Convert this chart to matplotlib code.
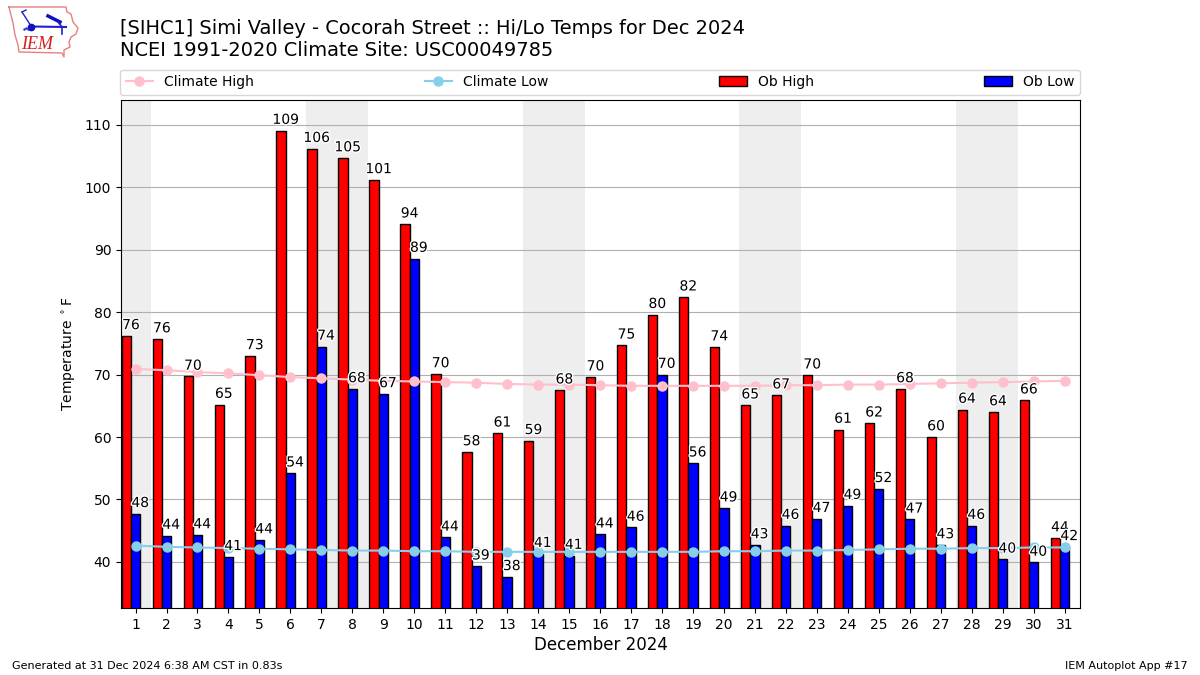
import numpy as np
import matplotlib.pyplot as plt
import matplotlib.patheffects as pe

days = list(range(1, 32))
ob_high = [76.2, 75.7, 69.7, 65.2, 73.0, 109.1, 106.2, 104.7, 101.2, 94.1, 70.1, 57.6, 60.6, 59.4, 67.5, 69.6,
           74.7, 79.6, 82.4, 74.4, 65.1, 66.7, 69.9, 61.2, 62.2, 67.7, 60.0, 64.4, 64.0, 65.9, 43.8]
ob_low = [47.7, 44.2, 44.3, 40.8, 43.5, 54.2, 74.5, 67.7, 66.9, 88.6, 43.9, 39.3, 37.6, 41.3, 41.0, 44.4,
          45.5, 70.0, 55.8, 48.6, 42.7, 45.8, 46.9, 49.0, 51.7, 46.8, 42.7, 45.8, 40.4, 39.9, 42.4]
climate_high = [70.9, 70.7, 70.4, 70.2, 69.9, 69.6, 69.4, 69.2, 69.0, 68.9, 68.8, 68.7, 68.5, 68.4, 68.4, 68.3,
                68.2, 68.2, 68.2, 68.2, 68.2, 68.3, 68.3, 68.4, 68.4, 68.5, 68.6, 68.7, 68.8, 68.9, 69.0]
climate_low = [42.6, 42.4, 42.3, 42.2, 42.1, 42.0, 41.9, 41.8, 41.8, 41.7, 41.7, 41.6, 41.6, 41.6, 41.6, 41.6,
               41.6, 41.6, 41.6, 41.7, 41.7, 41.8, 41.8, 41.9, 42.0, 42.1, 42.1, 42.2, 42.2, 42.3, 42.3]
weekend_days = [1, 7, 8, 14, 15, 21, 22, 28, 29]

W, H = 1200, 675
fig = plt.figure(figsize=(12, 6.75), dpi=100)
ax = fig.add_axes([121 / W, 1 - 608 / H, 959 / W, 508 / H])

x = np.array(days)
for d in weekend_days:
    ax.axvspan(d - 0.5, d + 0.5, color='#eeeeee', lw=0, zorder=0)

ax.bar(x - 0.3, ob_high, width=0.3, color='r', edgecolor='k', label='Ob High', zorder=2)
ax.bar(x, ob_low, width=0.3, color='b', edgecolor='k', label='Ob Low', zorder=2)
ax.plot(x, climate_high, color='pink', marker='o', lw=1.5, ms=6.5, label='Climate High', zorder=3)
ax.plot(x, climate_low, color='skyblue', marker='o', lw=1.5, ms=6.5, label='Climate Low', zorder=3)

stroke = [pe.withStroke(linewidth=2, foreground='white')]
for d, hi, lo in zip(days, ob_high, ob_low):
    ax.text(d - 0.15, hi + 0.6, str(round(hi)), ha='center', va='bottom', fontsize=10, color='k',
            path_effects=stroke, zorder=4)
    ax.text(d + 0.15, lo + 0.6, str(round(lo)), ha='center', va='bottom', fontsize=10, color='k',
            path_effects=stroke, zorder=4)

ax.set_xlim(0.53, 31.5)
ax.set_ylim(32.6, 114.0)
ax.set_xticks(days)
ax.set_yticks(range(40, 111, 10))
ax.set_axisbelow(True)
ax.grid(axis='y', color='#b0b0b0', lw=0.8)
ax.set_xlabel('December 2024', fontsize=12, labelpad=3)
ax.set_ylabel(r'Temperature $^\circ$F', fontsize=10, labelpad=5)

handles, labels = ax.get_legend_handles_labels()
order = [labels.index(n) for n in ['Climate High', 'Climate Low', 'Ob High', 'Ob Low']]
ax.legend([handles[i] for i in order], [labels[i] for i in order], ncol=4, mode='expand', loc='lower left',
          bbox_to_anchor=(-0.001, 1.0105, 1.001, 0.05), borderaxespad=0, fontsize=10)

fig.text(120 / W, 1 - 29 / H, '[SIHC1] Simi Valley - Cocorah Street :: Hi/Lo Temps for Dec 2024',
         fontsize=13.95, va='center')
fig.text(120 / W, 1 - 51 / H, 'NCEI 1991-2020 Climate Site: USC00049785', fontsize=13.95, va='center')
fig.text(12 / W, 1 - 666 / H, 'Generated at 31 Dec 2024 6:38 AM CST in 0.83s', fontsize=8, va='center')
fig.text(1188 / W, 1 - 666 / H, 'IEM Autoplot App #17', fontsize=8, va='center', ha='right')

# logo, drawn in pixel coords
logo = fig.add_axes([0, 1 - 62 / H, 90 / W, 62 / H])
logo.set_xlim(0, 90)
logo.set_ylim(62, 0)
logo.axis('off')
outline_x = [9, 66, 67, 71, 73, 78, 76, 71, 69, 70, 64, 64, 62, 19, 18, 15, 13, 9]
outline_y = [7, 7, 12, 14, 22, 28, 34, 37, 42, 47, 50, 57, 53, 52, 45, 35, 23, 7]
logo.plot(outline_x, outline_y, color='#e58080', lw=1)
logo.plot([22, 31], [12, 26], color='#2020d0', lw=1)
logo.plot([22, 26], [12, 10], color='#2020d0', lw=1)
logo.plot([31, 66], [26.5, 27], color='#2020d0', lw=1.5)
logo.plot([31], [26.5], 'o', color='#1010c0', ms=4.5)
logo.plot([48, 60], [16, 22], color='#1010c0', lw=2.5)
logo.plot([58, 62, 62], [22, 27, 34], color='#2020d0', lw=1.2)
logo.plot([24, 26, 28], [29, 28, 29], '.', color='#2020d0', ms=1.5)
logo.text(37.5, 44.5, 'IEM', family='Liberation Serif', style='italic', color='#d42020', fontsize=13,
          ha='center', va='center')

fig.savefig('out.png', dpi=100)
